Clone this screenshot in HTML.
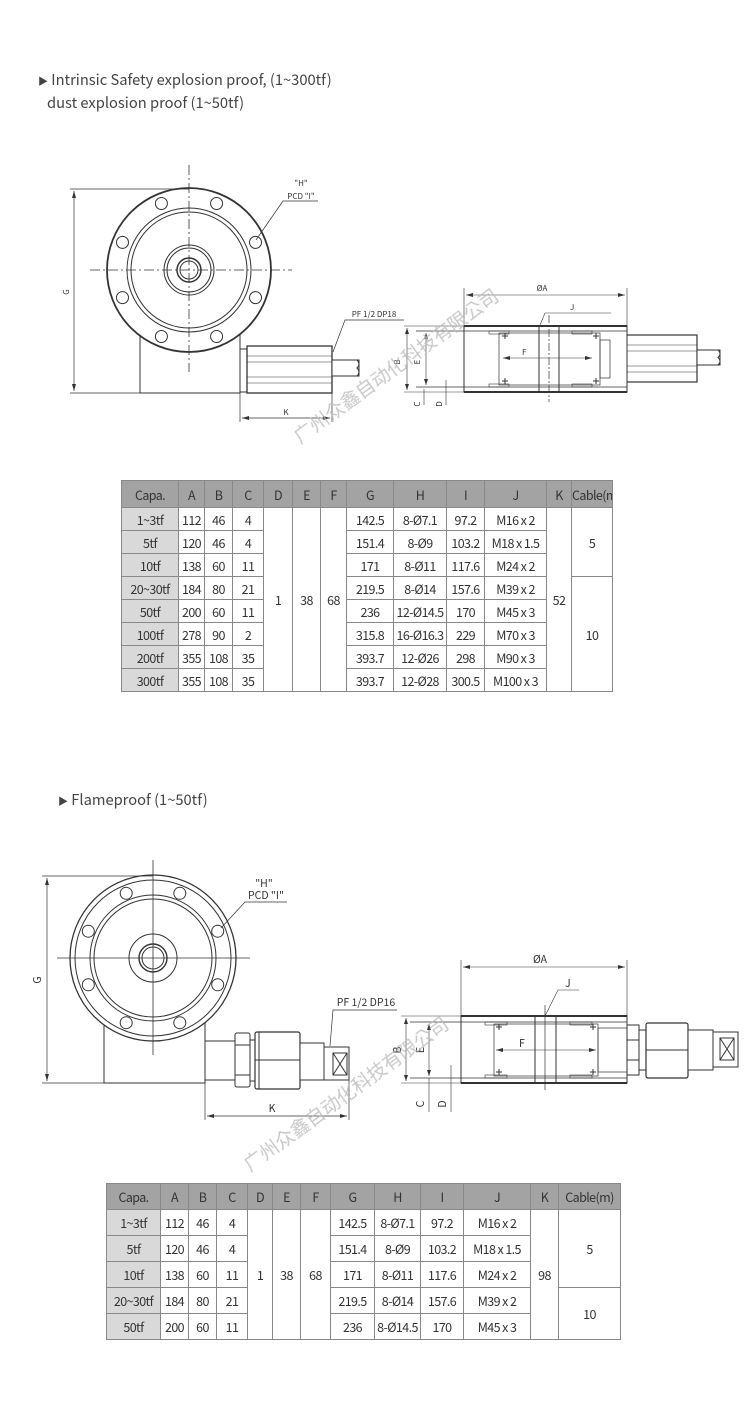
<!DOCTYPE html>
<html><head><meta charset="utf-8">
<style>
html,body{margin:0;padding:0;background:#fff;}
body{width:750px;height:1408px;position:relative;overflow:hidden;font-family:"Noto Sans CJK KR","Liberation Sans",sans-serif;color:#444;}
.h{position:absolute;font-size:14.7px;line-height:20px;color:#444;white-space:nowrap;}
table{position:absolute;border-collapse:collapse;table-layout:fixed;font-size:12.5px;letter-spacing:-0.6px;color:#333;}
td{border:1px solid #888;text-align:center;padding:0;white-space:nowrap;overflow:hidden;}
tr.hd td{background:#a3a3a3;color:#333;border-color:#888;}
td.c{background:#d9d9d9;}
svg{position:absolute;left:0;top:0;}
</style></head><body>
<div class="h" style="left:38px;top:70px;"><span style="font-size:10px">▶</span> Intrinsic Safety explosion proof, (1~300tf)</div>
<div class="h" style="left:47px;top:93px;">dust explosion proof (1~50tf)</div>
<div class="h" style="left:58px;top:790px;"><span style="font-size:10px">▶</span> Flameproof (1~50tf)</div>

<svg width="750" height="1408" viewBox="0 0 750 1408" xmlns="http://www.w3.org/2000/svg" font-family="Noto Sans CJK KR, Liberation Sans, sans-serif">
<g fill="none" stroke="#333" stroke-width="1">
<!-- Drawing 1 front -->
<rect x="140" y="330" width="100" height="63" fill="#fff"/>
<circle cx="189" cy="270" r="82" fill="#fff" stroke-width="1.8"/>
<circle cx="189" cy="270" r="62"/>
<circle cx="189" cy="270" r="58"/>
<circle cx="189" cy="270" r="25"/>
<circle cx="189" cy="270" r="22"/>
<circle cx="189" cy="270" r="12" stroke-width="1.5"/>
<circle cx="189" cy="270" r="9"/>
<g>
<circle cx="216.6" cy="203.5" r="6"/><circle cx="161.4" cy="203.5" r="6"/>
<circle cx="255.5" cy="242.4" r="6"/><circle cx="122.5" cy="242.4" r="6"/>
<circle cx="255.5" cy="297.6" r="6"/><circle cx="122.5" cy="297.6" r="6"/>
<circle cx="216.6" cy="336.5" r="6"/><circle cx="161.4" cy="336.5" r="6"/>
</g>
<line x1="189" y1="165" x2="189" y2="372" stroke-dasharray="10,3,2,3" stroke-width="0.8"/>
<line x1="90" y1="270" x2="292" y2="270" stroke-dasharray="10,3,2,3" stroke-width="0.8"/>
<rect x="240" y="349" width="7" height="43" fill="#fff"/>
<rect x="247" y="346" width="85" height="47" fill="#fff" stroke-width="1.3"/>
<line x1="247" y1="356" x2="332" y2="356" stroke-width="0.6"/>
<line x1="247" y1="362" x2="332" y2="362" stroke-width="0.6"/>
<line x1="247" y1="377" x2="332" y2="377" stroke-width="0.6"/>
<line x1="247" y1="383" x2="332" y2="383" stroke-width="0.6"/>
<rect x="332" y="360" width="27" height="16" fill="#fff"/>
<path d="M357 360 q4 4 0 8 q4 4 0 8" />
<line x1="70" y1="189" x2="189" y2="189" stroke-width="0.7"/>
<line x1="70" y1="393" x2="140" y2="393" stroke-width="0.7"/>
<line x1="74" y1="191" x2="74" y2="391" stroke-width="0.7"/>
<line x1="240" y1="393" x2="240" y2="422" stroke-width="0.7"/>
<line x1="332" y1="393" x2="332" y2="422" stroke-width="0.7"/>
<line x1="242" y1="418" x2="330" y2="418" stroke-width="0.7"/>
<polyline points="318,201 283,201 256,240" stroke-width="0.7"/>
<polyline points="404,320 345,320 333,352" stroke-width="0.7"/>

<!-- Drawing 1 side -->
<rect x="611" y="335" width="86" height="47" fill="#fff" stroke-width="1.2"/>
<line x1="611" y1="345" x2="697" y2="345" stroke-width="0.6"/>
<line x1="611" y1="351" x2="697" y2="351" stroke-width="0.6"/>
<line x1="611" y1="366" x2="697" y2="366" stroke-width="0.6"/>
<line x1="611" y1="372" x2="697" y2="372" stroke-width="0.6"/>
<rect x="697" y="350" width="23" height="15" fill="#fff"/>
<path d="M718 350 q4 4 0 7.5 q4 4 0 7.5"/>
<rect x="464" y="326" width="163" height="66" fill="#fff" stroke-width="1"/>
<line x1="464" y1="326" x2="627" y2="326" stroke-width="2"/>
<line x1="464" y1="392" x2="627" y2="392" stroke-width="2"/>
<line x1="416" y1="331" x2="627" y2="331" stroke-width="0.8"/>
<line x1="416" y1="387" x2="627" y2="387" stroke-width="0.8"/>
<rect x="489" y="331" width="20" height="3" stroke-width="0.6"/>
<rect x="572" y="331" width="20" height="3" stroke-width="0.6"/>
<rect x="489" y="384" width="20" height="3" stroke-width="0.6"/>
<rect x="572" y="384" width="20" height="3" stroke-width="0.6"/>
<rect x="499" y="333" width="101" height="52" stroke-width="0.7"/>
<line x1="539" y1="326" x2="539" y2="392"/>
<line x1="559" y1="326" x2="559" y2="392"/>
<rect x="600" y="340" width="10" height="38" stroke-width="0.7"/>
<line x1="549" y1="315" x2="549" y2="402" stroke-dasharray="8,2,2,2" stroke-width="0.7"/>
<path d="M502 336h6M505 333v6M593 336h6M596 333v6M502 381h6M505 378v6M593 381h6M596 378v6"/>
<line x1="404" y1="326" x2="464" y2="326" stroke-width="0.6"/>
<line x1="404" y1="392" x2="464" y2="392" stroke-width="0.6"/>
<line x1="407" y1="328" x2="407" y2="390" stroke-width="0.6"/>
<line x1="426" y1="333" x2="426" y2="385" stroke-width="0.6"/>
<line x1="446" y1="380" x2="446" y2="405" stroke-width="0.6"/>
<line x1="424" y1="389" x2="424" y2="405" stroke-width="0.6"/>
<line x1="503" y1="358" x2="592" y2="358" stroke-width="0.6"/>
<line x1="464" y1="288" x2="464" y2="326" stroke-width="0.6"/>
<line x1="627" y1="288" x2="627" y2="326" stroke-width="0.6"/>
<line x1="466" y1="295" x2="625" y2="295" stroke-width="0.6"/>
<polyline points="611,313 545,313 540,325" stroke-width="0.6"/>

<!-- Drawing 2 front -->
<rect x="104" y="1020" width="101" height="63" fill="#fff"/>
<circle cx="153" cy="958" r="83" fill="#fff" stroke-width="1.3"/>
<circle cx="153" cy="958" r="78"/>
<circle cx="153" cy="958" r="63"/>
<circle cx="153" cy="958" r="59"/>
<circle cx="153" cy="958" r="24"/>
<circle cx="153" cy="958" r="14" stroke-width="1.4"/>
<circle cx="153" cy="958" r="11"/>
<g>
<circle cx="179.8" cy="893.3" r="6"/><circle cx="126.2" cy="893.3" r="6"/>
<circle cx="217.7" cy="931.2" r="6"/><circle cx="88.3" cy="931.2" r="6"/>
<circle cx="217.7" cy="984.8" r="6"/><circle cx="88.3" cy="984.8" r="6"/>
<circle cx="179.8" cy="1022.7" r="6"/><circle cx="126.2" cy="1022.7" r="6"/>
</g>
<line x1="153" y1="860" x2="153" y2="1055" stroke-width="0.8"/>
<line x1="57" y1="958" x2="250" y2="958" stroke-width="0.8"/>
<rect x="205" y="1041" width="30" height="39" fill="#fff"/>
<rect x="235" y="1033" width="15" height="54" fill="#fff" rx="2"/>
<line x1="235" y1="1045" x2="250" y2="1045"/><line x1="235" y1="1075" x2="250" y2="1075"/>
<rect x="255" y="1032" width="45" height="57" fill="#fff" rx="2" stroke-width="1.2"/>
<line x1="255" y1="1060" x2="300" y2="1060"/><line x1="259" y1="1032" x2="259" y2="1089"/>
<rect x="250" y="1040" width="5" height="41"/>
<rect x="300" y="1043" width="24" height="37" fill="#fff"/>
<rect x="324" y="1047" width="25" height="33" fill="#fff"/>
<rect x="333" y="1053" width="14" height="22"/>
<path d="M333 1053L347 1075M347 1053L333 1075"/>
<line x1="42" y1="876" x2="153" y2="876" stroke-width="0.7"/>
<line x1="42" y1="1083" x2="104" y2="1083" stroke-width="0.7"/>
<line x1="47" y1="878" x2="47" y2="1081" stroke-width="0.7"/>
<line x1="205" y1="1083" x2="205" y2="1120" stroke-width="0.7"/>
<line x1="349" y1="1080" x2="349" y2="1120" stroke-width="0.7"/>
<line x1="207" y1="1116" x2="347" y2="1116" stroke-width="0.7"/>
<polyline points="287,902 245,902 221,928" stroke-width="0.7"/>
<polyline points="397,1010 333,1010 330,1046" stroke-width="0.7"/>

<!-- Drawing 2 side -->
<rect x="627" y="1025" width="12" height="50" fill="#fff"/>
<line x1="627" y1="1040" x2="639" y2="1040"/><line x1="627" y1="1060" x2="639" y2="1060"/>
<rect x="639" y="1030" width="7" height="40" fill="#fff"/>
<rect x="646" y="1023" width="42" height="55" fill="#fff" rx="2" stroke-width="1.2"/>
<line x1="646" y1="1050" x2="688" y2="1050"/>
<rect x="688" y="1030" width="25" height="40" fill="#fff"/>
<rect x="713" y="1032" width="25" height="35" fill="#fff"/>
<rect x="720" y="1038" width="14" height="22"/>
<path d="M720 1038L734 1060M734 1038L720 1060"/>
<rect x="461" y="1016" width="166" height="67" fill="#fff"/>
<line x1="461" y1="1016" x2="627" y2="1016" stroke-width="2"/>
<line x1="461" y1="1083" x2="627" y2="1083" stroke-width="2"/>
<line x1="410" y1="1022" x2="627" y2="1022" stroke-width="0.8"/>
<line x1="410" y1="1078" x2="627" y2="1078" stroke-width="0.8"/>
<rect x="485" y="1022" width="22" height="3" stroke-width="0.6"/>
<rect x="570" y="1022" width="22" height="3" stroke-width="0.6"/>
<rect x="485" y="1075" width="22" height="3" stroke-width="0.6"/>
<rect x="570" y="1075" width="22" height="3" stroke-width="0.6"/>
<rect x="494" y="1024" width="104" height="52" stroke-width="0.7"/>
<line x1="535" y1="1016" x2="535" y2="1083"/>
<line x1="556" y1="1016" x2="556" y2="1083"/>
<rect x="598" y="1028" width="29" height="44" stroke-width="0.7"/>
<line x1="545" y1="1005" x2="545" y2="1090" stroke-width="0.7"/>
<path d="M496 1027h6M499 1024v6M590 1027h6M593 1024v6M496 1072h6M499 1069v6M590 1072h6M593 1069v6"/>
<line x1="401" y1="1016" x2="461" y2="1016" stroke-width="0.6"/>
<line x1="401" y1="1083" x2="461" y2="1083" stroke-width="0.6"/>
<line x1="406" y1="1018" x2="406" y2="1081" stroke-width="0.6"/>
<line x1="429" y1="1024" x2="429" y2="1076" stroke-width="0.6"/>
<line x1="429" y1="1078" x2="429" y2="1112" stroke-width="0.6"/>
<line x1="451" y1="1065" x2="451" y2="1112" stroke-width="0.6"/>
<line x1="496" y1="1050" x2="596" y2="1050" stroke-width="0.6"/>
<line x1="461" y1="960" x2="461" y2="1016" stroke-width="0.6"/>
<line x1="627" y1="960" x2="627" y2="1016" stroke-width="0.6"/>
<line x1="463" y1="967" x2="625" y2="967" stroke-width="0.6"/>
<polyline points="579,990 558,990 545,1016" stroke-width="0.6"/>
</g>

<g fill="#333" stroke="none">
<path d="M74 191l-2 7h4zM74 391l-2 -7h4zM242 418l7 -2v4zM330 418l-7 -2v4z"/>
<path d="M466 295l7 -2v4zM625 295l-7 -2v4zM503 358l7 -2v4zM592 358l-7 -2v4zM407 328l-2 6h4zM407 390l-2 -6h4zM426 333l-2 6h4zM426 385l-2 -6h4z"/>
<path d="M47 878l-2 7h4zM47 1081l-2 -7h4zM207 1116l7 -2v4zM347 1116l-7 -2v4z"/>
<path d="M463 967l7 -2v4zM625 967l-7 -2v4zM496 1050l7 -2v4zM596 1050l-7 -2v4zM406 1018l-2 6h4zM406 1081l-2 -6h4zM429 1024l-2 6h4zM429 1076l-2 -6h4z"/>
</g>

<g fill="#333" font-size="8">
<text x="301" y="186" text-anchor="middle">"H"</text>
<text x="301" y="199" text-anchor="middle">PCD "I"</text>
<text x="374" y="317" text-anchor="middle">PF 1/2  DP18</text>
<text x="286" y="415" text-anchor="middle">K</text>
<text x="69" y="292" text-anchor="middle" transform="rotate(-90 69 292)">G</text>
<text x="542" y="291" text-anchor="middle">ØA</text>
<text x="570" y="310">J</text>
<text x="522" y="355">F</text>
<text x="400" y="362" transform="rotate(-90 400 362)" text-anchor="middle">B</text>
<text x="420" y="362" transform="rotate(-90 420 362)" text-anchor="middle">E</text>
<text x="420" y="404" transform="rotate(-90 420 404)" text-anchor="middle">C</text>
<text x="442" y="404" transform="rotate(-90 442 404)" text-anchor="middle">D</text>
</g>
<g fill="#333" font-size="10.5">
<text x="264" y="887" text-anchor="middle">"H"</text>
<text x="266" y="899" text-anchor="middle">PCD "I"</text>
<text x="366" y="1006" text-anchor="middle">PF 1/2 DP16</text>
<text x="272" y="1112" text-anchor="middle">K</text>
<text x="41" y="980" text-anchor="middle" transform="rotate(-90 41 980)">G</text>
<text x="540" y="963" text-anchor="middle">ØA</text>
<text x="565" y="987">J</text>
<text x="519" y="1047">F</text>
<text x="401" y="1050" transform="rotate(-90 401 1050)" text-anchor="middle">B</text>
<text x="424" y="1050" transform="rotate(-90 424 1050)" text-anchor="middle">E</text>
<text x="424" y="1104" transform="rotate(-90 424 1104)" text-anchor="middle">C</text>
<text x="446" y="1104" transform="rotate(-90 446 1104)" text-anchor="middle">D</text>
</g>
<g fill="#bbb" font-size="19" opacity="0.8">
<text x="300" y="444" transform="rotate(-36 300 444)">广州众鑫自动化科技有限公司</text>
<text x="250" y="1172" transform="rotate(-36 250 1172)">广州众鑫自动化科技有限公司</text>
</g>
</svg>

<table style="left:121px;top:480px;width:491px;">
<colgroup><col style="width:57px"><col style="width:26px"><col style="width:28px"><col style="width:31px"><col style="width:29px"><col style="width:28px"><col style="width:26px"><col style="width:47px"><col style="width:53px"><col style="width:38px"><col style="width:62px"><col style="width:25px"><col style="width:41px"></colgroup>
<tr class="hd" style="height:27px"><td>Capa.</td><td>A</td><td>B</td><td>C</td><td>D</td><td>E</td><td>F</td><td>G</td><td>H</td><td>I</td><td>J</td><td>K</td><td>Cable(m)</td></tr>
<tr style="height:23px"><td class="c">1~3tf</td><td>112</td><td>46</td><td>4</td><td rowspan="8">1</td><td rowspan="8">38</td><td rowspan="8">68</td><td>142.5</td><td>8-Ø7.1</td><td>97.2</td><td>M16 x 2</td><td rowspan="8">52</td><td rowspan="3">5</td></tr>
<tr style="height:23px"><td class="c">5tf</td><td>120</td><td>46</td><td>4</td><td>151.4</td><td>8-Ø9</td><td>103.2</td><td>M18 x 1.5</td></tr>
<tr style="height:23px"><td class="c">10tf</td><td>138</td><td>60</td><td>11</td><td>171</td><td>8-Ø11</td><td>117.6</td><td>M24 x 2</td></tr>
<tr style="height:23px"><td class="c">20~30tf</td><td>184</td><td>80</td><td>21</td><td>219.5</td><td>8-Ø14</td><td>157.6</td><td>M39 x 2</td><td rowspan="5">10</td></tr>
<tr style="height:23px"><td class="c">50tf</td><td>200</td><td>60</td><td>11</td><td>236</td><td>12-Ø14.5</td><td>170</td><td>M45 x 3</td></tr>
<tr style="height:23px"><td class="c">100tf</td><td>278</td><td>90</td><td>2</td><td>315.8</td><td>16-Ø16.3</td><td>229</td><td>M70 x 3</td></tr>
<tr style="height:23px"><td class="c">200tf</td><td>355</td><td>108</td><td>35</td><td>393.7</td><td>12-Ø26</td><td>298</td><td>M90 x 3</td></tr>
<tr style="height:23px"><td class="c">300tf</td><td>355</td><td>108</td><td>35</td><td>393.7</td><td>12-Ø28</td><td>300.5</td><td>M100 x 3</td></tr>
</table>

<table style="left:106px;top:1183px;width:514px;">
<colgroup><col style="width:54px"><col style="width:28px"><col style="width:28px"><col style="width:31px"><col style="width:25px"><col style="width:28px"><col style="width:30px"><col style="width:44px"><col style="width:46px"><col style="width:43px"><col style="width:67px"><col style="width:28px"><col style="width:62px"></colgroup>
<tr class="hd" style="height:26px"><td>Capa.</td><td>A</td><td>B</td><td>C</td><td>D</td><td>E</td><td>F</td><td>G</td><td>H</td><td>I</td><td>J</td><td>K</td><td>Cable(m)</td></tr>
<tr style="height:26px"><td class="c">1~3tf</td><td>112</td><td>46</td><td>4</td><td rowspan="5">1</td><td rowspan="5">38</td><td rowspan="5">68</td><td>142.5</td><td>8-Ø7.1</td><td>97.2</td><td>M16 x 2</td><td rowspan="5">98</td><td rowspan="3">5</td></tr>
<tr style="height:26px"><td class="c">5tf</td><td>120</td><td>46</td><td>4</td><td>151.4</td><td>8-Ø9</td><td>103.2</td><td>M18 x 1.5</td></tr>
<tr style="height:26px"><td class="c">10tf</td><td>138</td><td>60</td><td>11</td><td>171</td><td>8-Ø11</td><td>117.6</td><td>M24 x 2</td></tr>
<tr style="height:26px"><td class="c">20~30tf</td><td>184</td><td>80</td><td>21</td><td>219.5</td><td>8-Ø14</td><td>157.6</td><td>M39 x 2</td><td rowspan="2">10</td></tr>
<tr style="height:26px"><td class="c">50tf</td><td>200</td><td>60</td><td>11</td><td>236</td><td>8-Ø14.5</td><td>170</td><td>M45 x 3</td></tr>
</table>
</body></html>
